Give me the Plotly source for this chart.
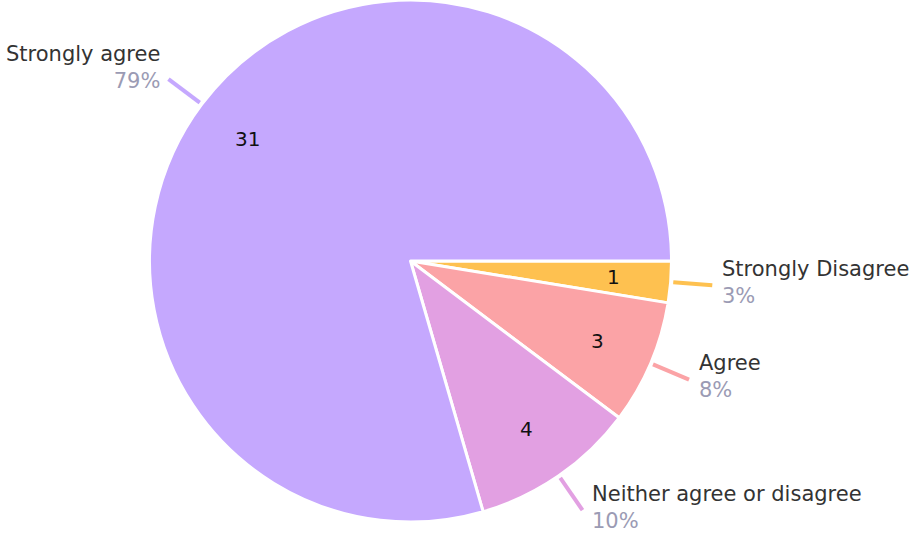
import math
import plotly.graph_objects as go

labels = ["Strongly Disagree", "Agree", "Neither agree or disagree", "Strongly agree"]
values = [1, 3, 4, 31]
colors = ["#fec150", "#fba3a6", "#e2a0e2", "#c5a8fe"]

W, H = 913, 533
cx, cy, R = 410.5, 261, 261

fig = go.Figure()
fig.add_trace(go.Pie(
    labels=labels, values=values, sort=False, direction="clockwise", rotation=90,
    marker=dict(colors=colors, line=dict(color="white", width=3)),
    textinfo="none", hoverinfo="label+value+percent",
    domain=dict(x=[(cx - R) / W, (cx + R) / W], y=[1 - (cy + R) / H, 1 - (cy - R) / H]),
    showlegend=False,
))

total = sum(values)
cum = 0
annotations = []
shapes = []
font_family = "DejaVu Sans, sans-serif"
for lab, v, col in zip(labels, values, colors):
    m = (cum + v / 2) / total
    cum += v
    th = math.radians(m * 360)
    c, s = math.cos(th), math.sin(th)
    def P(k):
        return cx + R * k * c, cy + R * k * s
    # inside value
    ix, iy = P(0.78)
    annotations.append(dict(x=ix / W, y=1 - iy / H, xref="paper", yref="paper",
                            text=str(v), showarrow=False, xanchor="center", yanchor="middle",
                            font=dict(family=font_family, size=20, color="#111")))
    # leader line
    x0, y0 = P(1.01)
    x1, y1 = P(1.16)
    shapes.append(dict(type="line", xref="paper", yref="paper",
                       x0=x0 / W, y0=1 - y0 / H, x1=x1 / W, y1=1 - y1 / H,
                       line=dict(color=col, width=4)))
    pct = round(100 * v / total)
    txt = (f"<span style='color:#333333'>{lab}</span><br>"
           f"<span style='color:#9b9bb4'>{pct}%</span>")
    if c >= 0:
        annotations.append(dict(x=(x1 + 8) / W, y=1 - (y1 - 3) / H, xref="paper", yref="paper",
                                text=txt, showarrow=False, xanchor="left", yanchor="middle",
                                align="left", font=dict(family=font_family, size=21)))
    else:
        annotations.append(dict(x=(x1 - 6) / W, y=1 - (y1 - 12) / H, xref="paper", yref="paper",
                                text=txt, showarrow=False, xanchor="right", yanchor="middle",
                                align="right", font=dict(family=font_family, size=21)))

fig.update_layout(width=W, height=H, margin=dict(l=0, r=0, t=0, b=0),
                  paper_bgcolor="white", plot_bgcolor="white",
                  annotations=annotations, shapes=shapes)
fig.write_html("out.html", config={"displayModeBar": False},
               post_script="document.body.style.margin='0';")
